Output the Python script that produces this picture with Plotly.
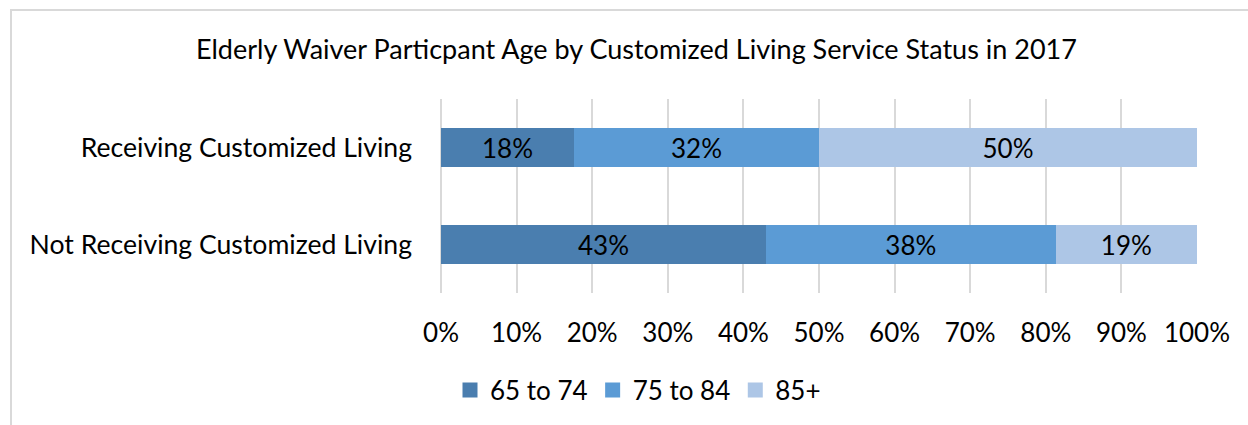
import plotly.graph_objects as go

categories = ["Receiving Customized Living", "Not Receiving Customized Living"]
series_names = ["65 to 74", "75 to 84", "85+"]
age_65_74 = [17.6, 43.0]
age_75_84 = [32.4, 38.3]
age_85_plus = [50.0, 18.7]
colors = ["#4A7EAF", "#5B9BD5", "#ADC6E6"]
tick_vals = [0, 10, 20, 30, 40, 50, 60, 70, 80, 90, 100]
tick_text = [f"{v}%" for v in tick_vals]

W, H = 1248, 425
L, R, T, B = 441, 51, 99, 132
pw, ph = W - L - R, H - T - B

def px(x):
    return (x - L) / pw

def py(y):
    return (H - B - y) / ph

FONT = "Lato, Carlito, Calibri, sans-serif"
FS = 26

fig = go.Figure()
for name, vals, col in zip(series_names, [age_65_74, age_75_84, age_85_plus], colors):
    fig.add_trace(go.Bar(
        y=categories, x=vals, name=name, orientation="h",
        marker=dict(color=col, line=dict(width=0)),
        texttemplate="%{x:.0f}%", textposition="inside", insidetextanchor="middle",
        textfont=dict(color="black", size=FS, family=FONT),
        hoverinfo="skip", showlegend=False, legendgroup=name,
    ))
# legend keys (square swatches like the reference)
for name, col in zip(series_names, colors):
    fig.add_trace(go.Scatter(
        x=[None], y=[None], mode="markers", name=name, legendgroup=name,
        marker=dict(symbol="square", size=15, color=col, line=dict(width=0)),
        hoverinfo="skip", showlegend=True,
    ))

fig.update_layout(
    width=W, height=H,
    margin=dict(l=L, r=R, t=T, b=B),
    barmode="stack", bargap=0.6,
    plot_bgcolor="white", paper_bgcolor="white",
    font=dict(family=FONT, size=FS, color="black"),
    showlegend=True,
    legend=dict(orientation="h", x=px(638), xanchor="center", y=py(390), yanchor="middle",
                traceorder="normal", itemsizing="trace",
                font=dict(size=FS, family=FONT), itemwidth=30),
    annotations=[dict(
        text="Elderly Waiver Particpant Age by Customized Living Service Status in 2017",
        xref="paper", yref="paper", x=px(636), y=py(48), xanchor="center", yanchor="middle",
        showarrow=False, font=dict(size=27, family=FONT, color="black"))],
    shapes=[dict(type="path", xref="paper", yref="paper",
                 path=f"M {px(11)} {py(430)} L {px(11)} {py(10)} L {px(1260)} {py(10)}",
                 line=dict(color="#D9D9D9", width=2))],
)
fig.update_xaxes(range=[0, 100], tickvals=tick_vals, ticktext=tick_text,
                 showgrid=True, gridcolor="#D9D9D9", gridwidth=1.5,
                 zeroline=True, zerolinecolor="#D9D9D9", zerolinewidth=1.5,
                 showline=False, ticks="", ticklabelstandoff=22,
                 tickfont=dict(size=FS, family=FONT))
fig.update_yaxes(autorange="reversed", showgrid=False, showline=False, ticks="",
                 ticklabelstandoff=28, tickfont=dict(size=26.6, family=FONT))

fig.write_html("out.html", config={"displayModeBar": False},
               post_script="document.body.style.margin='0';document.body.style.overflow='hidden';")
